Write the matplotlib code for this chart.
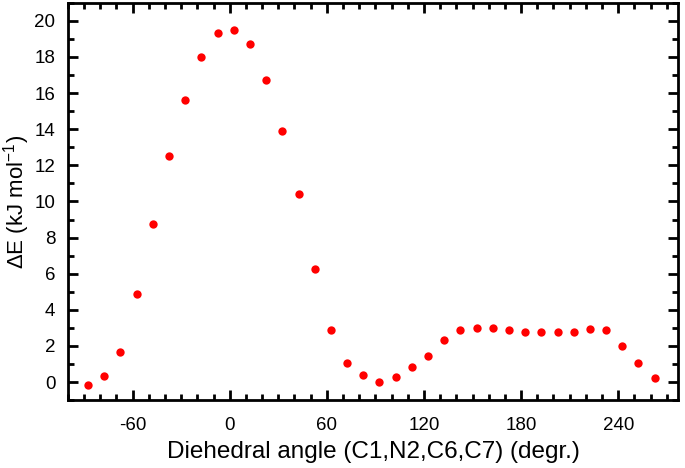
import matplotlib
matplotlib.use('Agg')
import matplotlib.pyplot as plt
from matplotlib.ticker import MultipleLocator

plt.rcParams['font.family'] = ['Liberation Sans', 'DejaVu Sans']
plt.rcParams['mathtext.default'] = 'regular'
plt.rcParams['axes.unicode_minus'] = False

# dihedral scan, energies
angle = [-87.5, -77.5, -67.5, -57.5, -47.5, -37.5, -27.5, -17.5, -7.5, 2.5,
         12.5, 22.5, 32.5, 42.5, 52.5, 62.5, 72.5, 82.5, 92.5, 102.5,
         112.5, 122.5, 132.5, 142.5, 152.5, 162.5, 172.5, 182.5, 192.5, 202.5,
         212.5, 222.5, 232.5, 242.5, 252.5, 262.5]
dE = [-0.17, 0.31, 1.68, 4.9, 8.75, 12.5, 15.6, 17.98, 19.34, 19.49,
      18.7, 16.74, 13.89, 10.44, 6.28, 2.86, 1.03, 0.41, 0.0, 0.26,
      0.85, 1.44, 2.32, 2.89, 3.02, 3.02, 2.87, 2.76, 2.76, 2.76,
      2.78, 2.93, 2.87, 2.01, 1.07, 0.22]

fig = plt.figure(figsize=(6.85, 4.68), dpi=100)
ax = fig.add_axes([0.099, 0.145, 0.891, 0.849])

ax.plot(angle, dE, 'o', color='#ff0000', markersize=6, markeredgewidth=0)

ax.set_xlim(-100, 277)
ax.set_ylim(-1, 21)
ax.xaxis.set_major_locator(MultipleLocator(60))
ax.xaxis.set_minor_locator(MultipleLocator(10))
ax.yaxis.set_major_locator(MultipleLocator(2))
ax.yaxis.set_minor_locator(MultipleLocator(1))

ax.tick_params(which='both', direction='in', top=True, right=True, width=2,
               labelsize=13.5)
ax.tick_params(which='major', length=7)
ax.tick_params(which='minor', length=4)
ax.tick_params(axis='x', which='major', pad=12)
ax.tick_params(axis='y', which='major', pad=9)
for s in ax.spines.values():
    s.set_linewidth(2)

ax.set_xlabel('Diehedral angle (C1,N2,C6,C7) (degr.)', fontsize=17.5, labelpad=5)
ax.set_ylabel('ΔE (kJ mol$^{-1}$)', fontsize=16, labelpad=2)

fig.savefig('out.png', dpi=100)
